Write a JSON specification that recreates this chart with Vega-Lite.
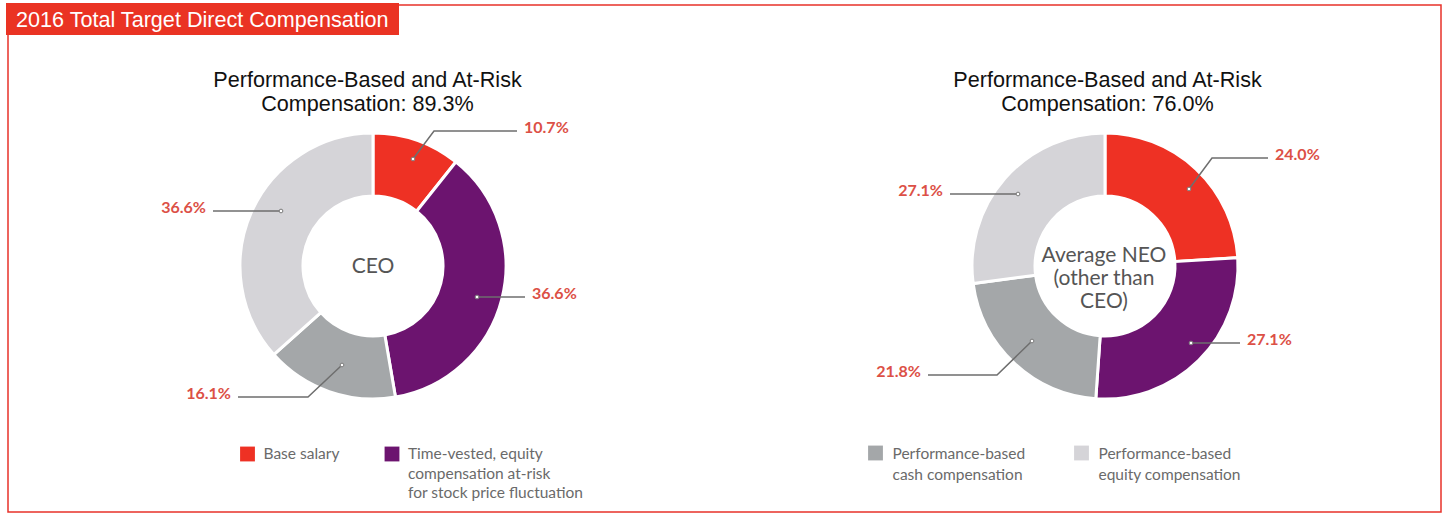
{
  "$schema": "https://vega.github.io/schema/vega-lite/v6.json",
  "width": 1449,
  "height": 515,
  "autosize": {"type": "fit", "contains": "padding"},
  "padding": 0,
  "background": "#ffffff",
  "config": {"view": {"stroke": null}},
  "datasets": {
    "comp": [
      {"id": "CEO-base", "chart": "CEO", "category": "Base salary", "share": 0.107, "k": 1},
      {"id": "CEO-time", "chart": "CEO", "category": "Time-vested, equity compensation at-risk for stock price fluctuation", "share": 0.366, "k": 2},
      {"id": "CEO-cash", "chart": "CEO", "category": "Performance-based cash compensation", "share": 0.161, "k": 3},
      {"id": "CEO-equity", "chart": "CEO", "category": "Performance-based equity compensation", "share": 0.366, "k": 4},
      {"id": "NEO-base", "chart": "NEO", "category": "Base salary", "share": 0.240, "k": 1},
      {"id": "NEO-time", "chart": "NEO", "category": "Time-vested, equity compensation at-risk for stock price fluctuation", "share": 0.271, "k": 2},
      {"id": "NEO-cash", "chart": "NEO", "category": "Performance-based cash compensation", "share": 0.218, "k": 3},
      {"id": "NEO-equity", "chart": "NEO", "category": "Performance-based equity compensation", "share": 0.271, "k": 4}
    ],
    "panels": [
      {"chart": "CEO", "heading": "Performance-Based and At-Risk\nCompensation: 89.3%", "center": "CEO"},
      {"chart": "NEO", "heading": "Performance-Based and At-Risk\nCompensation: 76.0%", "center": "Average NEO\n(other than\nCEO)"}
    ],
    "leaders": [
      {"id": "CEO-base", "step": 0, "px": 413, "py": 159},
      {"id": "CEO-base", "step": 1, "px": 434, "py": 131},
      {"id": "CEO-base", "step": 2, "px": 517, "py": 131},
      {"id": "CEO-time", "step": 0, "px": 477, "py": 297},
      {"id": "CEO-time", "step": 1, "px": 501, "py": 297},
      {"id": "CEO-time", "step": 2, "px": 525, "py": 297},
      {"id": "CEO-cash", "step": 0, "px": 342, "py": 365},
      {"id": "CEO-cash", "step": 1, "px": 308, "py": 397},
      {"id": "CEO-cash", "step": 2, "px": 238, "py": 397},
      {"id": "CEO-equity", "step": 0, "px": 281, "py": 211},
      {"id": "CEO-equity", "step": 1, "px": 247, "py": 211},
      {"id": "CEO-equity", "step": 2, "px": 213, "py": 211},
      {"id": "NEO-base", "step": 0, "px": 1189, "py": 189},
      {"id": "NEO-base", "step": 1, "px": 1212, "py": 158},
      {"id": "NEO-base", "step": 2, "px": 1268, "py": 158},
      {"id": "NEO-time", "step": 0, "px": 1191, "py": 343},
      {"id": "NEO-time", "step": 1, "px": 1215, "py": 343},
      {"id": "NEO-time", "step": 2, "px": 1240, "py": 343},
      {"id": "NEO-cash", "step": 0, "px": 1032, "py": 341},
      {"id": "NEO-cash", "step": 1, "px": 997, "py": 375},
      {"id": "NEO-cash", "step": 2, "px": 928, "py": 375},
      {"id": "NEO-equity", "step": 0, "px": 1018, "py": 194},
      {"id": "NEO-equity", "step": 1, "px": 984, "py": 194},
      {"id": "NEO-equity", "step": 2, "px": 950, "py": 194}
    ],
    "legend": [
      {"chart": "CEO", "category": "Base salary", "label": "Base salary"},
      {"chart": "CEO", "category": "Time-vested, equity compensation at-risk for stock price fluctuation", "label": "Time-vested, equity\ncompensation at-risk\nfor stock price fluctuation"},
      {"chart": "NEO", "category": "Performance-based cash compensation", "label": "Performance-based\ncash compensation"},
      {"chart": "NEO", "category": "Performance-based equity compensation", "label": "Performance-based\nequity compensation"}
    ]
  },
  "resolve": {"scale": {"x": "independent"}},
  "layer": [
    {
      "data": {"values": [{"part": "frame"}]},
      "mark": {"type": "rect", "filled": false, "stroke": "#e8322a", "strokeWidth": 1.5},
      "encoding": {
        "x": {"datum": 8, "type": "quantitative", "scale": {"domain": [0, 1449], "nice": false, "zero": false}, "axis": null},
        "x2": {"datum": 1441},
        "y": {"datum": 5, "type": "quantitative", "scale": {"domain": [0, 515], "nice": false, "zero": false, "reverse": true}, "axis": null},
        "y2": {"datum": 512}
      }
    },
    {
      "data": {"name": "comp"},
      "transform": [
        {"stack": "share", "groupby": ["chart"], "sort": [{"field": "k", "order": "ascending"}], "as": ["t0", "t1"]}
      ],
      "mark": {"type": "arc", "outerRadius": 133, "innerRadius": 70, "stroke": "#ffffff", "strokeWidth": 3},
      "encoding": {
        "x": {"field": "chart", "type": "nominal", "scale": {"type": "point", "domain": ["CEO", "NEO"], "range": [373, 1105], "padding": 0}, "axis": null},
        "y": {"datum": 266, "type": "quantitative", "axis": null},
        "theta": {"field": "t0", "type": "quantitative", "scale": {"domain": [0, 1], "nice": false, "zero": true}},
        "theta2": {"field": "t1"},
        "color": {
          "field": "category", "type": "nominal",
          "scale": {
            "domain": ["Base salary", "Time-vested, equity compensation at-risk for stock price fluctuation", "Performance-based cash compensation", "Performance-based equity compensation"],
            "range": ["#ee3124", "#6c146f", "#a4a7a9", "#d5d4d8"]
          },
          "legend": null
        }
      }
    },
    {
      "data": {"name": "leaders"},
      "mark": {"type": "line", "stroke": "#6e6e6e", "strokeWidth": 1.5, "interpolate": "linear"},
      "encoding": {
        "x": {"field": "px", "type": "quantitative", "scale": {"domain": [0, 1449], "nice": false, "zero": false}, "axis": null},
        "y": {"field": "py", "type": "quantitative", "axis": null},
        "detail": {"field": "id"},
        "order": {"field": "step", "type": "quantitative"}
      }
    },
    {
      "data": {"name": "leaders"},
      "transform": [{"filter": "datum.step == 0"}],
      "mark": {"type": "point", "shape": "circle", "filled": true, "fill": "#ffffff", "stroke": "#7a7a7a", "strokeWidth": 1, "size": 14, "opacity": 1},
      "encoding": {
        "x": {"field": "px", "type": "quantitative", "scale": {"domain": [0, 1449], "nice": false, "zero": false}, "axis": null},
        "y": {"field": "py", "type": "quantitative", "axis": null}
      }
    },
    {
      "data": {"name": "leaders"},
      "transform": [
        {"filter": "datum.step == 2"},
        {"lookup": "id", "from": {"data": {"name": "comp"}, "key": "id", "fields": ["share", "k"]}},
        {"filter": "datum.k <= 2"}
      ],
      "mark": {"type": "text", "align": "left", "baseline": "middle", "dx": 7, "dy": -3, "font": "Lato", "fontSize": 16, "fontWeight": "bold", "fill": "#dc5046"},
      "encoding": {
        "x": {"field": "px", "type": "quantitative", "scale": {"domain": [0, 1449], "nice": false, "zero": false}, "axis": null},
        "y": {"field": "py", "type": "quantitative", "axis": null},
        "text": {"field": "share", "type": "quantitative", "format": ".1%"}
      }
    },
    {
      "data": {"name": "leaders"},
      "transform": [
        {"filter": "datum.step == 2"},
        {"lookup": "id", "from": {"data": {"name": "comp"}, "key": "id", "fields": ["share", "k"]}},
        {"filter": "datum.k > 2"}
      ],
      "mark": {"type": "text", "align": "right", "baseline": "middle", "dx": -7, "dy": -3, "font": "Lato", "fontSize": 16, "fontWeight": "bold", "fill": "#dc5046"},
      "encoding": {
        "x": {"field": "px", "type": "quantitative", "scale": {"domain": [0, 1449], "nice": false, "zero": false}, "axis": null},
        "y": {"field": "py", "type": "quantitative", "axis": null},
        "text": {"field": "share", "type": "quantitative", "format": ".1%"}
      }
    },
    {
      "data": {"name": "panels"},
      "mark": {"type": "text", "align": "center", "baseline": "alphabetic", "lineBreak": "\n", "lineHeight": 23.5, "font": "Liberation Sans", "fontSize": 21.6, "fill": "#111111"},
      "encoding": {
        "x": {"field": "chart", "type": "nominal", "scale": {"type": "point", "domain": ["CEO", "NEO"], "range": [367.5, 1107.5], "padding": 0}, "axis": null},
        "y": {"datum": 87, "type": "quantitative", "axis": null},
        "text": {"field": "heading"}
      }
    },
    {
      "data": {"name": "panels"},
      "transform": [{"filter": "datum.chart == 'CEO'"}],
      "mark": {"type": "text", "align": "center", "baseline": "alphabetic", "font": "Lato", "fontSize": 21, "fill": "#555555"},
      "encoding": {
        "x": {"datum": 373, "type": "quantitative", "scale": {"domain": [0, 1449], "nice": false, "zero": false}, "axis": null},
        "y": {"datum": 273, "type": "quantitative", "axis": null},
        "text": {"field": "center"}
      }
    },
    {
      "data": {"name": "panels"},
      "transform": [{"filter": "datum.chart == 'NEO'"}],
      "mark": {"type": "text", "align": "center", "baseline": "alphabetic", "lineBreak": "\n", "lineHeight": 23, "font": "Lato", "fontSize": 21, "fill": "#555555"},
      "encoding": {
        "x": {"datum": 1104, "type": "quantitative", "scale": {"domain": [0, 1449], "nice": false, "zero": false}, "axis": null},
        "y": {"datum": 262, "type": "quantitative", "axis": null},
        "text": {"field": "center"}
      }
    },
    {
      "data": {"name": "legend"},
      "transform": [{"filter": "datum.chart == 'CEO'"}],
      "mark": {"type": "square", "filled": true, "size": 220, "opacity": 1},
      "encoding": {
        "x": {"field": "category", "type": "nominal", "scale": {"type": "point", "domain": ["Base salary", "Time-vested, equity compensation at-risk for stock price fluctuation"], "range": [247.5, 392], "padding": 0}, "axis": null},
        "y": {"datum": 454, "type": "quantitative", "axis": null},
        "color": {"field": "category", "type": "nominal", "legend": null}
      }
    },
    {
      "data": {"name": "legend"},
      "transform": [{"filter": "datum.chart == 'CEO'"}],
      "mark": {"type": "text", "align": "left", "baseline": "alphabetic", "dx": 16, "lineBreak": "\n", "lineHeight": 19.5, "font": "Lato", "fontSize": 15.5, "fill": "#6a6a6a"},
      "encoding": {
        "x": {"field": "category", "type": "nominal", "scale": {"type": "point", "domain": ["Base salary", "Time-vested, equity compensation at-risk for stock price fluctuation"], "range": [247.5, 392], "padding": 0}, "axis": null},
        "y": {"datum": 459, "type": "quantitative", "axis": null},
        "text": {"field": "label"}
      }
    },
    {
      "data": {"name": "legend"},
      "transform": [{"filter": "datum.chart == 'NEO'"}],
      "mark": {"type": "square", "filled": true, "size": 220, "opacity": 1},
      "encoding": {
        "x": {"field": "category", "type": "nominal", "scale": {"type": "point", "domain": ["Performance-based cash compensation", "Performance-based equity compensation"], "range": [875.5, 1081.5], "padding": 0}, "axis": null},
        "y": {"datum": 453, "type": "quantitative", "axis": null},
        "color": {"field": "category", "type": "nominal", "legend": null}
      }
    },
    {
      "data": {"name": "legend"},
      "transform": [{"filter": "datum.chart == 'NEO'"}],
      "mark": {"type": "text", "align": "left", "baseline": "alphabetic", "dx": 17, "lineBreak": "\n", "lineHeight": 21, "font": "Lato", "fontSize": 15.5, "fill": "#6a6a6a"},
      "encoding": {
        "x": {"field": "category", "type": "nominal", "scale": {"type": "point", "domain": ["Performance-based cash compensation", "Performance-based equity compensation"], "range": [875.5, 1081.5], "padding": 0}, "axis": null},
        "y": {"datum": 459, "type": "quantitative", "axis": null},
        "text": {"field": "label"}
      }
    },
    {
      "data": {"values": [{"title": "2016 Total Target Direct Compensation"}]},
      "mark": {"type": "rect", "fill": "#ea3323"},
      "encoding": {
        "x": {"datum": 6, "type": "quantitative", "scale": {"domain": [0, 1449], "nice": false, "zero": false}, "axis": null},
        "x2": {"datum": 399},
        "y": {"datum": 3, "type": "quantitative", "axis": null},
        "y2": {"datum": 35}
      }
    },
    {
      "data": {"values": [{"title": "2016 Total Target Direct Compensation"}]},
      "mark": {"type": "text", "align": "left", "baseline": "alphabetic", "font": "Liberation Sans", "fontSize": 21.6, "fill": "#ffffff"},
      "encoding": {
        "x": {"datum": 16, "type": "quantitative", "scale": {"domain": [0, 1449], "nice": false, "zero": false}, "axis": null},
        "y": {"datum": 27, "type": "quantitative", "axis": null},
        "text": {"field": "title"}
      }
    }
  ]
}
